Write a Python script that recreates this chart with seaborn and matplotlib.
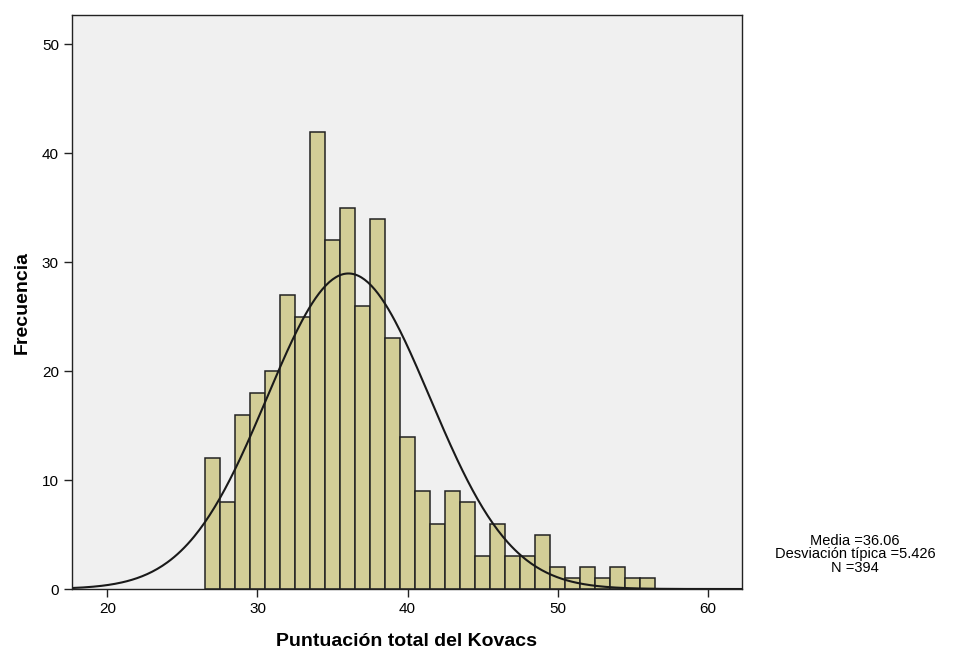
import numpy as np
import pandas as pd
import matplotlib
matplotlib.use('Agg')
import matplotlib.pyplot as plt
import seaborn as sns

# histogram data (bin width 1, centres 27..56)
bin_centres = list(range(27, 57))
counts = [12, 8, 16, 18, 20, 27, 25, 42, 32, 35, 26, 34, 23, 14, 9,
          6, 9, 8, 3, 6, 3, 3, 5, 2, 1, 2, 1, 2, 1, 1]
media = 36.06
desv = 5.426
n_total = 394
x_ticks = [20, 30, 40, 50, 60]
y_ticks = [0, 10, 20, 30, 40, 50]

sns.set_style('white')
plt.rcParams['font.family'] = ['Liberation Sans', 'DejaVu Sans']
plt.rcParams['text.color'] = 'black'
plt.rcParams['axes.labelcolor'] = 'black'
plt.rcParams['xtick.color'] = 'black'
plt.rcParams['ytick.color'] = 'black'

df = pd.DataFrame({'score': bin_centres, 'n': counts})

fig = plt.figure(figsize=(9.67, 6.52), dpi=100)
ax = fig.add_axes([0.0745, 0.0966, 0.6925, 0.8804])
ax.set_facecolor('#f0f0f0')

sns.histplot(data=df, x='score', weights='n', binwidth=1,
             binrange=(min(bin_centres) - 0.5, max(bin_centres) + 0.5), ax=ax,
             color='#d3ce97', alpha=1, edgecolor='#222222', linewidth=1.1)

# normal curve scaled to counts
xs = np.linspace(17.6, 62.4, 400)
ys = n_total * 1.0 / (desv * np.sqrt(2 * np.pi)) * np.exp(-0.5 * ((xs - media) / desv) ** 2)
ax.plot(xs, ys, color='#1a1a1a', linewidth=1.5)

ax.set_xlim(17.65, 62.25)
ax.set_ylim(0, 52.7)
ax.set_xticks(x_ticks)
ax.set_yticks(y_ticks)
ax.tick_params(axis='both', direction='out', length=6, width=1, color='#222222',
               labelsize=11, bottom=True, left=True)
for s in ax.spines.values():
    s.set_color('#222222')
    s.set_linewidth(1)

ax.set_xlabel('Puntuación total del Kovacs', fontsize=14, fontweight='bold', labelpad=12)
ax.set_ylabel('Frecuencia', fontsize=14, fontweight='bold', labelpad=8)

fig.text(0.884, 0.150, 'Media =36.06\nDesviación típica =5.426\nN =394',
         ha='center', va='center', fontsize=10.5, linespacing=0.95)

fig.savefig('out.png', dpi=100)
